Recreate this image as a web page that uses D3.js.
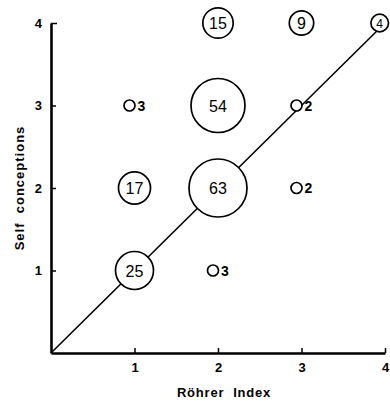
<!DOCTYPE html>
<html>
<head>
<meta charset="utf-8">
<script src="https://cdn.jsdelivr.net/npm/d3@7"></script>
<style>
  html, body { margin: 0; padding: 0; background: #fff; }
  svg { display: block; }
  text { font-family: "Liberation Sans", Arial, Helvetica, sans-serif; fill: #000; }
</style>
</head>
<body>
<svg id="chart" width="390" height="405"></svg>
<script>
// Data: bubble grid of Röhrer Index (x) vs Self conceptions (y), with counts
const rohrer = [2, 3, 4, 1, 2, 3, 1, 2, 3, 1, 2];
const selfConceptions = [4, 4, 4, 3, 3, 3, 2, 2, 2, 1, 1];
const counts = [15, 9, 4, 3, 54, 2, 17, 63, 2, 25, 3];
const xTicks = [1, 2, 3, 4];
const yTicks = [1, 2, 3, 4];
const xTitle = "Röhrer  Index";
const yTitle = "Self  conceptions";

const points = rohrer.map((x, i) => ({ x, y: selfConceptions[i], n: counts[i] }));

const W = 390;
const svg = d3.select("#chart");
const x = d3.scaleLinear().domain([0, 4]).range([51, 385]);
const y = d3.scaleLinear().domain([0, 4]).range([353, 23]);
const r = d3.scaleSqrt().domain([0, 63]).range([2, 29]);
const smallMax = 3; // counts drawn as small markers with label to the right

// diagonal reference line
svg.append("line")
  .attr("x1", x(0)).attr("y1", y(0))
  .attr("x2", x(4)).attr("y2", y(4))
  .attr("stroke", "#000").attr("stroke-width", 1.6);

// axes
const xAxis = d3.axisBottom(x).tickValues(xTicks).tickSizeInner(-5).tickSizeOuter(0).tickPadding(10).tickFormat(d3.format("d"));
const yAxis = d3.axisLeft(y).tickValues(yTicks).tickSizeInner(-5).tickSizeOuter(0).tickPadding(9).tickFormat(d3.format("d"));

const gx = svg.append("g").attr("transform", `translate(0,${y(0)})`).call(xAxis);
const gy = svg.append("g").attr("transform", `translate(${x(0)},0)`).call(yAxis);

[gx, gy].forEach(g => {
  g.select(".domain").attr("stroke", "#000").attr("stroke-width", 2.6);
  g.selectAll(".tick line").attr("stroke", "#000").attr("stroke-width", 1.5);
  g.selectAll(".tick text")
    .style("font-family", "'Liberation Sans', Arial, sans-serif")
    .style("font-weight", "bold")
    .style("font-size", "13px")
    .attr("fill", "#000");
});
// top stub of y axis at 4
gy.select(".tick:last-of-type line").attr("x2", 6);

// bubbles
const g = svg.append("g");
points.forEach(p => {
  const small = p.n <= smallMax;
  const rad = small ? 5.5 : r(p.n);
  let cx = x(p.x) - (small ? 5 : 0);
  cx = Math.min(cx, W - rad - 1.5);
  const cy = y(p.y);
  g.append("circle")
    .attr("cx", cx).attr("cy", cy)
    .attr("r", rad)
    .attr("fill", "#fff")
    .attr("stroke", "#000")
    .attr("stroke-width", 1.7);
  if (small) {
    g.append("text")
      .attr("x", cx + 8).attr("y", cy + 5)
      .style("font-size", "14px")
      .style("font-weight", "bold")
      .text(p.n);
  } else {
    g.append("text")
      .attr("x", cx).attr("y", cy + (p.n < 5 ? 4.5 : 6))
      .attr("text-anchor", "middle")
      .style("font-size", p.n < 5 ? "12px" : "16px")
      .text(p.n);
  }
});

// axis titles
svg.append("text")
  .attr("x", 224).attr("y", 397)
  .attr("text-anchor", "middle")
  .style("font-weight", "bold").style("font-size", "13px")
  .style("letter-spacing", "0.8px")
  .style("white-space", "pre")
  .text(xTitle);

svg.append("text")
  .attr("transform", "translate(24,188) rotate(-90)")
  .attr("text-anchor", "middle")
  .style("font-weight", "bold").style("font-size", "13px")
  .style("letter-spacing", "1px")
  .style("white-space", "pre")
  .text(yTitle);
</script>
</body>
</html>
